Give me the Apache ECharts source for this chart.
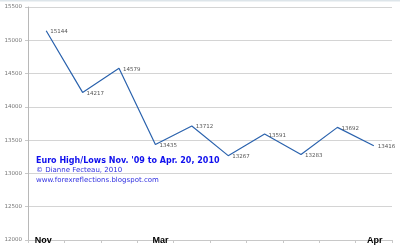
<!DOCTYPE html>
<html><head><meta charset="utf-8">
<script src="https://cdn.jsdelivr.net/npm/echarts@6/dist/echarts.min.js"></script>
<style>html,body{margin:0;padding:0;background:#fff}#c{width:400px;height:248px}</style>
</head><body><div id="c"></div>
<script>
const categories = ['1','2','3','4','5','6','7','8','9','10'];
const tickLabels = ['Nov','','','Mar','','','','','','Apr'];
const values = [15144, 14217, 14579, 13435, 13712, 13267, 13591, 13283, 13692, 13416];
const yTicks = [12000, 15500, 500];
const titleLines = ["Euro High/Lows Nov. '09 to Apr. 20, 2010", "\u00A9 Dianne Fecteau, 2010", "www.forexreflections.blogspot.com"];

const chart = echarts.init(document.getElementById('c'));
const labelShift = {0: [0,6,0,0], 3: [0,0,0,10], 9: [0,0,0,2]};
chart.setOption({
  animation: false,
  grid: {left: 28, right: 8, top: 7, bottom: 8},
  xAxis: {
    type: 'category', data: categories, boundaryGap: true,
    axisLine: {lineStyle: {color: '#c8c8c8'}},
    axisTick: {show: true, length: 3, lineStyle: {color: '#c8c8c8'}},
    axisLabel: {
      interval: 0, margin: -4,
      formatter: (v, i) => tickLabels[i] ? '{l' + i + '|' + tickLabels[i] + '}' : '',
      rich: Object.fromEntries(Object.keys(labelShift).map(k => ['l' + k, {
        fontFamily: 'Liberation Sans', fontWeight: 'bold', fontSize: 9, color: '#000', padding: labelShift[k]
      }]))
    }
  },
  yAxis: {
    type: 'value', min: yTicks[0], max: yTicks[1], interval: yTicks[2],
    axisLine: {show: true, lineStyle: {color: '#b8b8b8'}},
    axisTick: {show: true, length: 3, lineStyle: {color: '#c8c8c8'}},
    splitLine: {lineStyle: {color: '#d4d4d4'}},
    axisLabel: {fontFamily: 'DejaVu Sans', fontSize: 5.5, color: '#777', margin: 6, formatter: v => String(v)}
  },
  series: [{
    type: 'line', data: values,
    symbol: 'circle', symbolSize: 0.01, showSymbol: true,
    itemStyle: {color: '#2a62ad'},
    lineStyle: {color: '#2a62ad', width: 1.2},
    label: {show: true, position: 'right', offset: [0, 1], distance: 4,
      fontFamily: 'DejaVu Sans', fontSize: 5.5, color: '#555', formatter: p => String(p.value)}
  }],
  graphic: [
    {type: 'rect', shape: {x: 0, y: 0, width: 400, height: 1.5}, style: {fill: '#dde5ea'}, silent: true},
    {type: 'text', left: 36, top: 157, style: {text: titleLines[0], fontFamily: 'DejaVu Sans', fontWeight: 'bold', fontSize: 8, fill: '#1010ee'}},
    {type: 'text', left: 36, top: 167, style: {text: titleLines[1], fontFamily: 'DejaVu Sans', fontSize: 7, fill: '#3030e0'}},
    {type: 'text', left: 36, top: 177, style: {text: titleLines[2], fontFamily: 'DejaVu Sans', fontSize: 7, fill: '#3030e0'}}
  ]
});
</script></body></html>
